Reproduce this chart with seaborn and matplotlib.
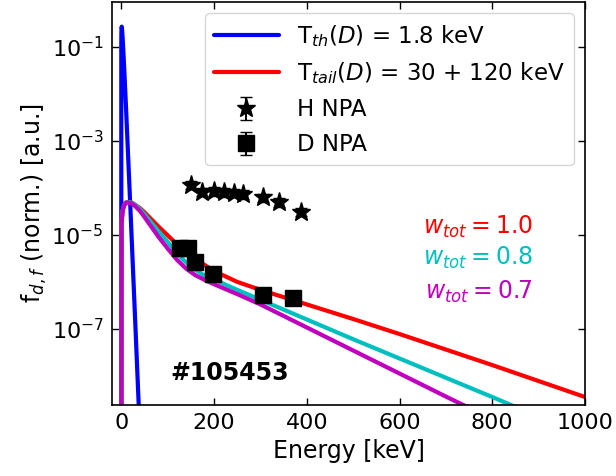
import numpy as np
import pandas as pd
import matplotlib
matplotlib.use("Agg")
import matplotlib.pyplot as plt
import seaborn as sns

sns.set_style("ticks")
plt.rcParams["font.family"] = ["DejaVu Sans"]
plt.rcParams["mathtext.fontset"] = "dejavusans"
for k in ["text.color", "axes.labelcolor", "xtick.color", "ytick.color", "axes.edgecolor"]:
    plt.rcParams[k] = "black"
FS_TICK = 16
FS_LAB = 17
FS_LEG = 16.5
FS_TXT = 17

# ---- data (log10 of values) ----
E_th = [0, 0.05, 0.2, 0.5, 0.9, 1.5, 3, 6, 10, 20, 30, 40]
logf_th = [-12, -0.99, -0.73, -0.60, -0.57, -0.60, -0.82, -1.39, -2.24, -4.51, -6.83, -9.18]

E_tail = [0, 0.5, 1, 3, 6, 10, 15, 22, 30, 40, 50, 65, 80, 100, 120, 150, 200, 250, 300,
          400, 500, 600, 700, 800, 900, 1000]
logf_w10 = [-12, -4.83, -4.69, -4.48, -4.37, -4.31, -4.30, -4.31, -4.36, -4.43, -4.52, -4.67,
            -4.82, -5.01, -5.20, -5.45, -5.77, -6.00, -6.17, -6.48, -6.79, -7.11, -7.44,
            -7.77, -8.11, -8.45]

E_w08 = [0, 0.5, 1, 3, 6, 10, 15, 22, 30, 40, 50, 65, 80, 100, 120, 150, 175, 200, 250, 300,
         400, 500, 600, 700, 800, 850]
logf_w08 = [-12, -4.83, -4.69, -4.48, -4.37, -4.32, -4.30, -4.315, -4.365, -4.45, -4.56, -4.74,
            -4.92, -5.15, -5.40, -5.68, -5.84, -5.95, -6.17, -6.38, -6.80, -7.22, -7.63,
            -8.04, -8.45, -8.66]

E_w07 = [0, 0.5, 1, 3, 6, 10, 15, 22, 30, 40, 50, 65, 80, 100, 120, 140, 160, 180, 200, 250,
         300, 400, 500, 600, 700, 750]
logf_w07 = [-12, -4.84, -4.70, -4.49, -4.38, -4.32, -4.31, -4.33, -4.39, -4.49, -4.62, -4.83,
            -5.04, -5.29, -5.53, -5.72, -5.86, -5.96, -6.05, -6.26, -6.48, -6.97, -7.46,
            -7.95, -8.44, -8.68]

E_H = [150, 175, 200, 222, 243, 262, 305, 340, 388]
logf_H = [-3.93, -4.08, -4.07, -4.09, -4.10, -4.13, -4.20, -4.30, -4.51]

E_D = [126, 144, 158, 198, 306, 370]
logf_D = [-5.29, -5.28, -5.57, -5.84, -6.29, -6.35]

rel_err = 0.2

# ---- figure ----
fig = plt.figure(figsize=(6.16, 4.76), dpi=100)
ax = fig.add_axes([112/616, 1-405/476, (585-112)/616, (405-2)/476])

df_th = pd.DataFrame({"E": E_th, "f": 10**np.array(logf_th, dtype=float)})
df_10 = pd.DataFrame({"E": E_tail, "f": 10**np.array(logf_w10, dtype=float)})
df_08 = pd.DataFrame({"E": E_w08, "f": 10**np.array(logf_w08, dtype=float)})
df_07 = pd.DataFrame({"E": E_w07, "f": 10**np.array(logf_w07, dtype=float)})

sns.lineplot(data=df_th, x="E", y="f", ax=ax, color="#0000ff", lw=3, sort=False)
sns.lineplot(data=df_10, x="E", y="f", ax=ax, color="#ff0000", lw=3, sort=False)
sns.lineplot(data=df_08, x="E", y="f", ax=ax, color="#00bfbf", lw=3, sort=False)
sns.lineplot(data=df_07, x="E", y="f", ax=ax, color="#bf00bf", lw=3, sort=False)

fH = 10**np.array(logf_H)
fD = 10**np.array(logf_D)
hH = ax.errorbar(E_H, fH, yerr=rel_err*fH, fmt="*", color="k", ms=14, capsize=4, zorder=5)
hD = ax.errorbar(E_D, fD, yerr=rel_err*fD, fmt="s", color="k", ms=11, capsize=4, zorder=5)

ax.set_yscale("log")
ax.set_xlim(-20, 1000)
ax.set_ylim(2.4e-9, 0.9)
ax.set_yticks([1e-1, 1e-3, 1e-5, 1e-7])
ax.yaxis.set_minor_locator(matplotlib.ticker.NullLocator())
ax.set_xticks([0, 200, 400, 600, 800, 1000])
ax.tick_params(direction="in", top=True, right=True, labelsize=FS_TICK, length=5, width=1,
               pad=6, colors="black")
for s in ax.spines.values():
    s.set_color("black")
    s.set_linewidth(1.2)

ax.set_xlabel("Energy [keV]", fontsize=FS_LAB)
ax.set_ylabel(r"f$_{d,f}$ (norm.) [a.u.]", fontsize=FS_LAB, labelpad=2)

lines = ax.get_lines()
ax.legend([lines[0], lines[1], hH, hD],
          [r"T$_{th}(D)$ = 1.8 keV", r"T$_{tail}(D)$ = 30 + 120 keV", "H NPA", "D NPA"],
          loc="upper right", fontsize=FS_LEG, handlelength=2.8, labelspacing=0.52)

ax.text(0.89, 0.443, r"$w_{tot} = 1.0$", color="#ff0000", fontsize=FS_TXT, ha="right",
        va="center", transform=ax.transAxes)
ax.text(0.89, 0.366, r"$w_{tot} = 0.8$", color="#00bfbf", fontsize=FS_TXT, ha="right",
        va="center", transform=ax.transAxes)
ax.text(0.89, 0.281, r"$w_{tot} = 0.7$", color="#bf00bf", fontsize=FS_TXT, ha="right",
        va="center", transform=ax.transAxes)
ax.text(0.123, 0.08, "#105453", fontsize=FS_TXT, fontweight="bold", ha="left", va="center",
        transform=ax.transAxes)

fig.savefig("out.png", dpi=100)
